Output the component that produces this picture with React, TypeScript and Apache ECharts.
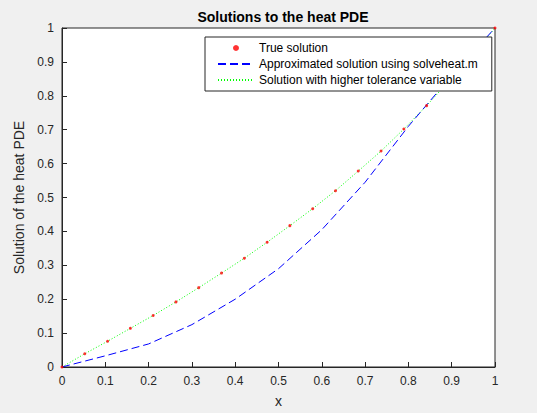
import { useEffect, useRef } from 'react';
import * as echarts from 'echarts';

const trueX = [0, 0.0526, 0.1053, 0.1579, 0.2105, 0.2632, 0.3158, 0.3684, 0.4211, 0.4737, 0.5263, 0.5789, 0.6316, 0.6842, 0.7368, 0.7895, 0.8421, 0.8947, 0.9474, 1];
const trueY = [0, 0.039, 0.076, 0.114, 0.152, 0.192, 0.234, 0.277, 0.321, 0.368, 0.417, 0.467, 0.52, 0.578, 0.637, 0.702, 0.771, 0.845, 0.92, 1];
const approxX = [0, 0.1, 0.2, 0.3, 0.4, 0.5, 0.6, 0.7, 0.8, 0.9, 1];
const approxY = [0, 0.033, 0.068, 0.125, 0.2, 0.29, 0.405, 0.545, 0.71, 0.86, 1];
const tolY = trueY;

const FONT = 'Liberation Sans, Arial, sans-serif';

export default function App() {
  const ref = useRef<HTMLDivElement>(null);

  useEffect(() => {
    if (!ref.current) return;
    const chart = echarts.init(ref.current, undefined, { renderer: 'svg' });
    const axisCommon = {
      type: 'value' as const,
      min: 0,
      max: 1,
      interval: 0.1,
      axisLine: { show: true, lineStyle: { color: '#262626' } },
      axisTick: { show: true, inside: true, length: 5, lineStyle: { color: '#262626' } },
      splitLine: { show: false },
      axisLabel: { color: '#262626', fontSize: 12, fontFamily: FONT },
      nameTextStyle: { color: '#262626', fontSize: 14, fontFamily: FONT },
      nameLocation: 'middle' as const,
    };
    chart.setOption({
      animation: false,
      backgroundColor: '#f0f0f0',
      title: {
        text: 'Solutions to the heat PDE',
        left: 278,
        textAlign: 'center',
        top: 5,
        textStyle: { fontSize: 14, fontWeight: 'bold', color: '#000', fontFamily: FONT },
      },
      grid: {
        left: 62, top: 28, width: 433, height: 342,
        show: true, backgroundColor: '#fff', borderColor: '#262626', borderWidth: 1,
      },
      xAxis: { ...axisCommon, name: 'x', nameGap: 27 },
      yAxis: { ...axisCommon, name: 'Solution of the heat PDE', nameGap: 32 },
      legend: {
        orient: 'vertical',
        left: 205,
        top: 37,
        padding: [5, 14, 5, 12],
        itemGap: 4,
        itemWidth: 36,
        itemHeight: 6,
        backgroundColor: '#fff',
        borderColor: '#262626',
        borderWidth: 1,
        borderRadius: 0,
        textStyle: { fontSize: 12, color: '#000', fontFamily: FONT },
        data: [
          { name: 'True solution', icon: 'circle', itemStyle: { color: '#ff0000' } },
          { name: 'Approximated solution using solveheat.m', itemStyle: { opacity: 0 } },
          { name: 'Solution with higher tolerance variable', itemStyle: { opacity: 0 } },
        ],
      },
      series: [
        {
          name: 'Solution with higher tolerance variable',
          type: 'line',
          data: trueX.map((x, i) => [x, tolY[i]]),
          symbol: 'none',
          lineStyle: { color: '#00ff00', width: 1, type: [1, 2] },
          itemStyle: { color: '#00ff00' },
          z: 2,
        },
        {
          name: 'Approximated solution using solveheat.m',
          type: 'line',
          data: approxX.map((x, i) => [x, approxY[i]]),
          symbol: 'none',
          lineStyle: { color: '#0000ff', width: 1, type: [8, 4] },
          itemStyle: { color: '#0000ff' },
          z: 2,
        },
        {
          name: 'True solution',
          type: 'scatter',
          data: trueX.map((x, i) => [x, trueY[i]]),
          symbol: 'circle',
          symbolSize: 3,
          itemStyle: { color: '#ff0000' },
          z: 3,
        },
      ],
    });
    return () => chart.dispose();
  }, []);

  return <div ref={ref} style={{ position: 'absolute', left: 0, top: 0, width: 537, height: 413 }} />;
}
